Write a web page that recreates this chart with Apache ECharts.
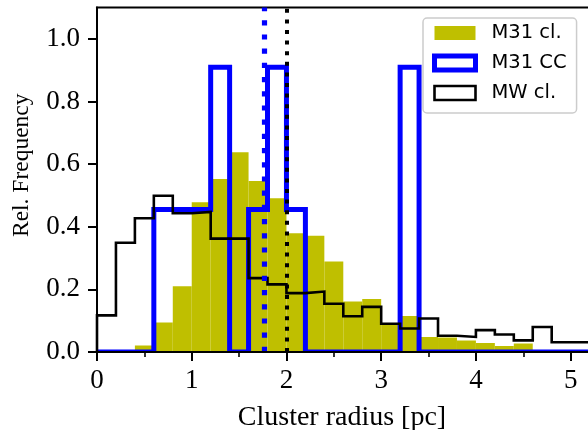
<!DOCTYPE html>
<html><head><meta charset="utf-8">
<script src="https://cdn.jsdelivr.net/npm/echarts@6/dist/echarts.min.js"></script>
<style>html,body{margin:0;padding:0;background:#fff}#c{width:588px;height:430px}</style>
</head><body><div id="c"></div>
<script>
// bin edges of all three histograms (pc)
const binEdges = [0,0.2,0.4,0.6,0.8,1.0,1.2,1.4,1.6,1.8,2.0,2.2,2.4,2.6,2.8,3.0,3.2,3.4,3.6,3.8,4.0,4.2,4.4,4.6,4.8,5.0,5.2];
// relative frequency per bin
const m31Cl = [0,0,0.021,0.094,0.21,0.478,0.552,0.638,0.546,0.491,0.379,0.371,0.289,0.161,0.169,0.09,0.115,0.048,0.046,0.037,0.029,0.019,0.027,0,0,0];
const m31CC = [0,0,0,0.455,0.455,0.455,0.909,0,0.455,0.909,0.455,0,0,0,0,0,0.909,0,0,0,0,0,0,0,0,0];
const mwCl  = [0.117,0.349,0.427,0.499,0.443,0.447,0.362,0.362,0.236,0.216,0.188,0.193,0.154,0.114,0.144,0.09,0.075,0.107,0.052,0.048,0.070,0.056,0.037,0.080,0.031,0.031];
// medians (dotted vertical lines)
const medianCC = 1.77;
const medianMW = 2.0;
const yTicks = [0,0.2,0.4,0.6,0.8,1.0];
const seriesNames = ['M31 cl.','M31 CC','MW cl.'];

function barData(vals){ return vals.map((v,i)=>[binEdges[i], binEdges[i+1], v]); }
function stepData(vals){
  const pts = [[binEdges[0],0]];
  vals.forEach((v,i)=>{ pts.push([binEdges[i],v]); pts.push([binEdges[i+1],v]); });
  pts.push([binEdges[vals.length],0]);
  return pts;
}

const serif = 'Liberation Serif';
const chart = echarts.init(document.getElementById('c'), null, {renderer:'canvas'});
chart.setOption({
  animation:false,
  grid:{left:97,right:-30,top:7.5,bottom:78,show:true,borderColor:'#000',borderWidth:2,backgroundColor:'transparent',
        outerBoundsMode:'none',containLabel:false},
  xAxis:{type:'value',min:0,max:5.5,interval:1,z:100,
    axisLine:{lineStyle:{color:'#000',width:2}},
    axisTick:{length:9,lineStyle:{color:'#000',width:2}},
    minorTick:{show:true,splitNumber:2,length:5,lineStyle:{color:'#000',width:1.6}},
    splitLine:{show:false},
    axisLabel:{fontFamily:serif,fontSize:27,color:'#000',margin:15},
    name:'Cluster radius [pc]',nameLocation:'middle',nameGap:52,
    nameTextStyle:{fontFamily:serif,fontSize:28,color:'#000',padding:[0,31,0,0]}},
  yAxis:{type:'value',min:0,max:1.1,interval:0.2,z:100,
    axisLine:{show:true,lineStyle:{color:'#000',width:2}},
    axisTick:{show:true,length:9,customValues:yTicks,lineStyle:{color:'#000',width:2}},
    splitLine:{show:false},
    axisLabel:{customValues:yTicks,formatter:v=>v.toFixed(1),fontFamily:serif,fontSize:27,color:'#000',margin:17},
    name:'Rel. Frequency',nameLocation:'middle',nameGap:63,nameRotate:90,
    nameTextStyle:{fontFamily:serif,fontSize:23.5,color:'#000',padding:[0,0,0,29]}},
  legend:{left:423,top:18,orient:'vertical',itemWidth:41,itemHeight:14,itemGap:10,
    padding:[5,10,10,9],backgroundColor:'rgba(255,255,255,0.8)',borderColor:'#cccccc',borderWidth:1.5,borderRadius:4,
    selectedMode:false,
    textStyle:{fontFamily:'DejaVu Sans',fontSize:19.5,color:'#000',lineHeight:20,padding:[0,0,0,11]},
    data:[
      {name:seriesNames[0],icon:'rect',itemStyle:{color:'#bfbf00',borderWidth:0}},
      {name:seriesNames[1],icon:'rect',itemStyle:{color:'#ffffff',borderColor:'#0000ff',borderWidth:5}},
      {name:seriesNames[2],icon:'rect',itemStyle:{color:'#ffffff',borderColor:'#000000',borderWidth:2.6}}
    ]},
  graphic:[{type:'rect',z:50,shape:{x:97,y:353,width:491,height:5},style:{fill:'#fff'}}],
  series:[
    {name:seriesNames[0],type:'custom',z:2,clip:true,data:barData(m31Cl),
     itemStyle:{color:'#bfbf00'},
     renderItem:(params,api)=>{
       const p0 = api.coord([api.value(0), api.value(2)]);
       const p1 = api.coord([api.value(1), 0]);
       return {type:'rect',shape:{x:p0[0],y:p0[1],width:p1[0]-p0[0],height:p1[1]-p0[1]},style:{fill:'#bfbf00'}};
     }},
    {name:seriesNames[1],type:'line',z:3,data:stepData(m31CC),showSymbol:false,symbol:'none',
     color:'#0000ff',lineStyle:{color:'#0000ff',width:5,join:'miter'},emphasis:{disabled:true}},
    {name:seriesNames[2],type:'line',z:4,data:stepData(mwCl),showSymbol:false,symbol:'none',
     color:'#000',lineStyle:{color:'#000',width:2.6,join:'miter'},emphasis:{disabled:true}},
    {name:'medians',type:'line',z:5,data:[],silent:true,
     markLine:{symbol:'none',silent:true,label:{show:false},animation:false,
       data:[
         {xAxis:medianCC,lineStyle:{color:'#0000ff',width:5.2,type:[5.2,9],cap:'butt'}},
         {xAxis:medianMW,lineStyle:{color:'#000000',width:4,type:[4,6.6],cap:'butt'}}
       ]}}
  ]
});
</script></body></html>
